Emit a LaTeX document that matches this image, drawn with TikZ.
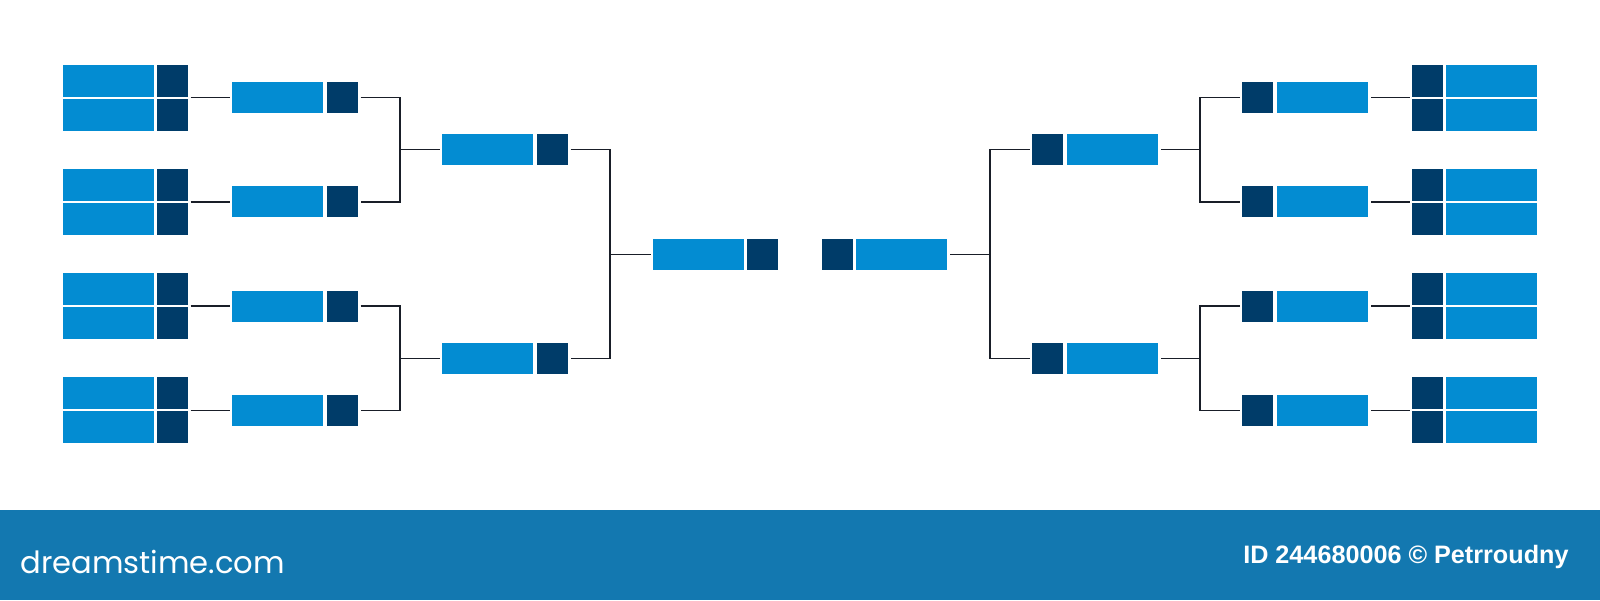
\documentclass[tikz,border=0pt]{standalone}
\usepackage{fontspec}
\newfontfamily\logofont{Poppins}
\newfontfamily\idfont{Liberation Sans}
\usetikzlibrary{fit,calc}
\newlength{\pxu}\setlength{\pxu}{0.5pt}
\definecolor{lightblue}{RGB}{3,140,210}
\definecolor{navy}{RGB}{0,60,105}
\definecolor{banner}{RGB}{19,120,176}
\definecolor{linecol}{RGB}{25,30,40}
\tikzset{
  lbox/.style={draw=none,fill=lightblue,inner sep=0,outer sep=0,minimum width=91\pxu,minimum height=31\pxu},
  dbox/.style={draw=none,fill=navy,inner sep=0,outer sep=0,minimum width=31\pxu,minimum height=31\pxu},
  rowh/.style={minimum height=32\pxu},
  grp/.style={inner sep=0,outer sep=0},
  conn/.style={draw=linecol,line width=1.5\pxu,shorten >=2.5\pxu,shorten <=2.5\pxu},
  conn2/.style={draw=linecol,line width=1.5\pxu}
}
\begin{document}
\begin{tikzpicture}[x=0.5pt,y=-0.5pt]
\useasboundingbox (0,0) rectangle (1600,600);
\fill[white] (0,0) rectangle (1600,600);
% ---- first round (left and right)
\foreach \k/\c in {0/97.5,1/201.8,2/306.1,3/410.4}{
  % left
  \node[lbox,rowh] (L1la\k) at (108.5,\c-17) {};
  \node[lbox,rowh] (L1lb\k) at (108.5,\c+17) {};
  \node[dbox,rowh] (L1da\k) at (172.5,\c-17) {};
  \node[dbox,rowh] (L1db\k) at (172.5,\c+17) {};
  \node[grp,fit=(L1la\k)(L1db\k)] (L1\k) {};
  % right
  \node[lbox,rowh] (R1la\k) at (1491.5,\c-17) {};
  \node[lbox,rowh] (R1lb\k) at (1491.5,\c+17) {};
  \node[dbox,rowh] (R1da\k) at (1427.5,\c-17) {};
  \node[dbox,rowh] (R1db\k) at (1427.5,\c+17) {};
  \node[grp,fit=(R1la\k)(R1db\k)] (R1\k) {};
  % second round
  \node[lbox] (L2l\k) at (277.5,\c) {};
  \node[dbox] (L2d\k) at (342.5,\c) {};
  \node[lbox] (R2l\k) at (1322.5,\c) {};
  \node[dbox] (R2d\k) at (1257.5,\c) {};
  \draw[conn] (L1\k.east) -- (L2l\k.west);
  \draw[conn] (R1\k.west) -- (R2l\k.east);
}
% ---- third round
\foreach \j/\c in {0/149.65,1/358.25}{
  \node[lbox] (L3l\j) at (487.5,\c) {};
  \node[dbox] (L3d\j) at (552.5,\c) {};
  \node[lbox] (R3l\j) at (1112.5,\c) {};
  \node[dbox] (R3d\j) at (1047.5,\c) {};
}
\coordinate (JL0) at (400,149.65);
\coordinate (JL1) at (400,358.25);
\coordinate (JR0) at (1200,149.65);
\coordinate (JR1) at (1200,358.25);
\draw[conn2,shorten <=2.5\pxu] (L2d0.east) -| (JL0);
\draw[conn2,shorten >=2.5\pxu] (JL0) |- (L2d1.east);
\draw[conn2,shorten >=2.5\pxu] (JL0) -- (L3l0.west);
\draw[conn2,shorten <=2.5\pxu] (L2d2.east) -| (JL1);
\draw[conn2,shorten >=2.5\pxu] (JL1) |- (L2d3.east);
\draw[conn2,shorten >=2.5\pxu] (JL1) -- (L3l1.west);
\draw[conn2,shorten <=2.5\pxu] (R2d0.west) -| (JR0);
\draw[conn2,shorten >=2.5\pxu] (JR0) |- (R2d1.west);
\draw[conn2,shorten >=2.5\pxu] (JR0) -- (R3l0.east);
\draw[conn2,shorten <=2.5\pxu] (R2d2.west) -| (JR1);
\draw[conn2,shorten >=2.5\pxu] (JR1) |- (R2d3.west);
\draw[conn2,shorten >=2.5\pxu] (JR1) -- (R3l1.east);
% ---- final
\node[lbox] (LFl) at (698.5,254.5) {};
\node[dbox] (LFd) at (762.5,254.5) {};
\node[lbox] (RFl) at (901.5,254.5) {};
\node[dbox] (RFd) at (837.5,254.5) {};
\coordinate (JLF) at (610,254.5);
\coordinate (JRF) at (990,254.5);
\draw[conn2,shorten <=2.5\pxu] (L3d0.east) -| (JLF);
\draw[conn2,shorten >=2.5\pxu] (JLF) |- (L3d1.east);
\draw[conn2,shorten >=2.5\pxu] (JLF) -- (LFl.west);
\draw[conn2,shorten <=2.5\pxu] (R3d0.west) -| (JRF);
\draw[conn2,shorten >=2.5\pxu] (JRF) |- (R3d1.west);
\draw[conn2,shorten >=2.5\pxu] (JRF) -- (RFl.east);
% ---- banner
\fill[banner] (0,510) rectangle (1600,600);
\node[anchor=base west,inner sep=0,text=white,font=\logofont\fontsize{15.3}{17}\selectfont] (logo) at (20,573) {dreamstime.com};
\node[anchor=base east,inner sep=0,text=white,font=\idfont\bfseries\fontsize{12.6}{14}\selectfont] (idtext) at (1569,563) {ID 244680006 © Petrroudny};
\end{tikzpicture}
\end{document}
